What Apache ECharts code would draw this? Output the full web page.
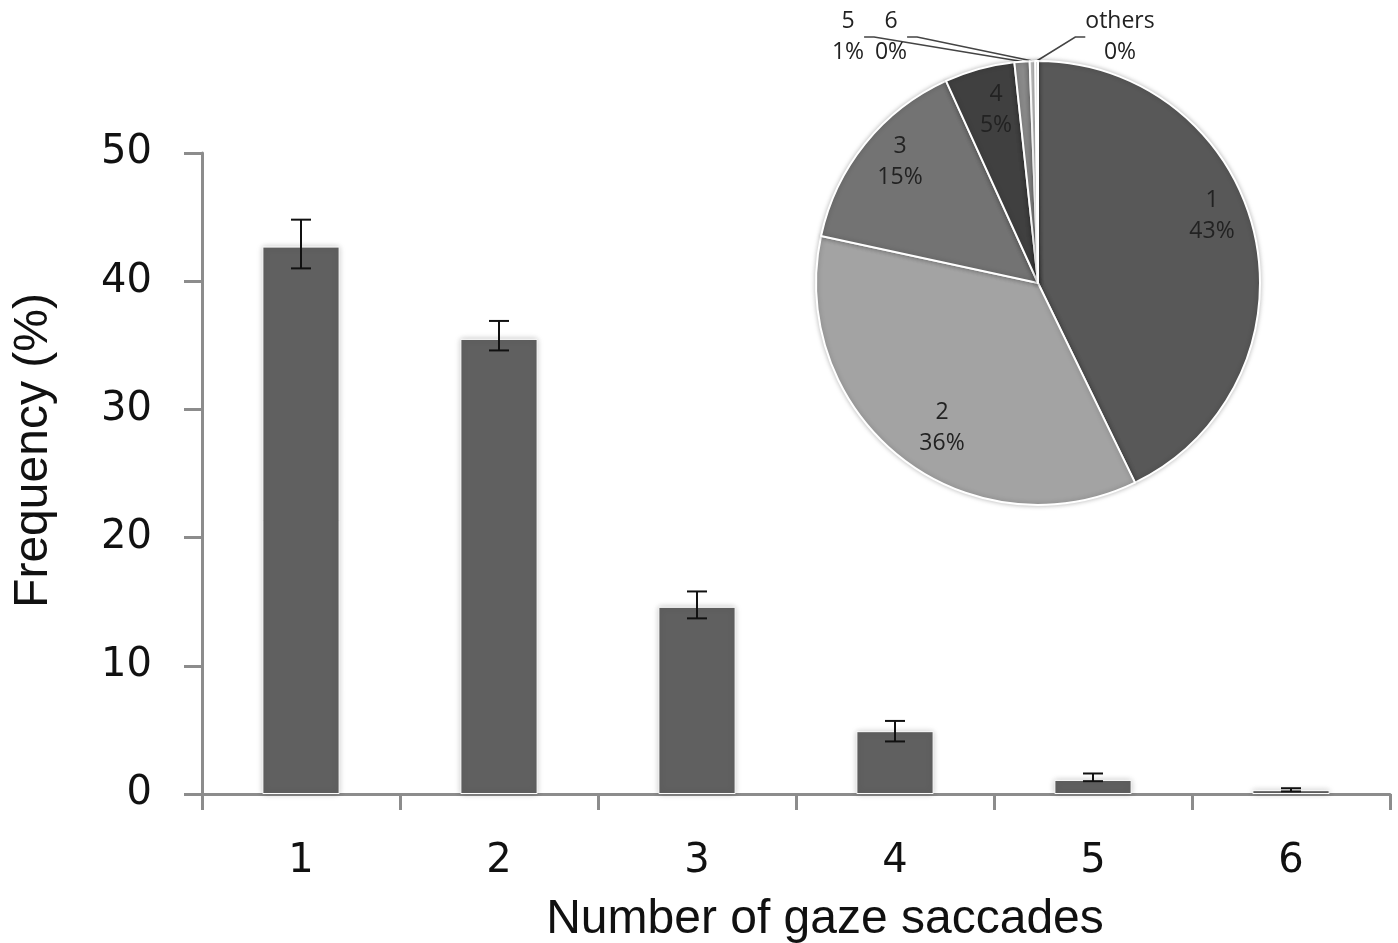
<!DOCTYPE html>
<html><head><meta charset="utf-8">
<script src="https://cdn.jsdelivr.net/npm/echarts@6/dist/echarts.min.js"></script>
<style>html,body{margin:0;padding:0;background:#fff}#c{width:1398px;height:943px}</style>
</head><body><div id="c"></div>
<script>
const categories = ['1','2','3','4','5','6'];
const barValues = [42.7, 35.5, 14.6, 4.9, 1.1, 0.3];
const errLow = [41.0, 34.6, 13.7, 4.1, 1.0, 0.2];
const errHigh = [44.8, 36.9, 15.8, 5.7, 1.6, 0.45];
const yTicks = [0, 10, 20, 30, 40, 50];
const pieNames = ['1','2','3','4','5','6','others'];
const pieValues = [42.8, 35.6, 14.8, 5.1, 1.1, 0.4, 0.2];
const pieColors = ['#585858','#a3a3a3','#737373','#404040','#8a8a8a','#d4d4d4','#ececec'];

const chart = echarts.init(document.getElementById('c'));
const pieCenter = [1038, 283];
const pieRadius = 222;
// label anchor positions (text layout only)
const labelPos = [[1212, 216], [942, 428], [900, 162], [996, 110], [848, 37], [891, 37], [1120, 37]];

const errData = categories.map((c, i) => [i, errLow[i], errHigh[i]]);

chart.setOption({
  animation: false,
  grid: {left: 202, right: 8, top: 153, bottom: 149, outerBoundsMode: 'none', containLabel: false},
  xAxis: {
    type: 'category', data: categories,
    name: 'Number of gaze saccades', nameLocation: 'middle', nameGap: 102,
    nameTextStyle: {fontFamily: 'Liberation Sans', fontSize: 48, color: '#111', padding: [0,0,0,58]},
    axisLine: {show: true, lineStyle: {color: '#8c8c8c', width: 3}},
    axisTick: {show: true, alignWithLabel: false, interval: 0, length: 16, lineStyle: {color: '#8c8c8c', width: 3}},
    axisLabel: {fontFamily: 'DejaVu Sans', fontSize: 40, color: '#111', margin: 48}
  },
  yAxis: {
    type: 'value', min: yTicks[0], max: yTicks[yTicks.length-1], interval: 10,
    name: 'Frequency (%)', nameLocation: 'middle', nameGap: 144, nameRotate: 90,
    nameTextStyle: {fontFamily: 'Liberation Sans', fontSize: 48, color: '#111', padding: [0,0,0,46]},
    axisLine: {show: true, lineStyle: {color: '#8c8c8c', width: 3}},
    axisTick: {show: true, length: 18, lineStyle: {color: '#8c8c8c', width: 3}},
    splitLine: {show: false},
    axisLabel: {fontFamily: 'DejaVu Sans', fontSize: 40, color: '#111', margin: 50}
  },
  series: [
    {
      type: 'bar', data: barValues, barWidth: '39%',
      itemStyle: {color: '#606060', borderColor: '#fdfdfd', borderWidth: 1,
        shadowColor: 'rgba(0,0,0,0.22)', shadowBlur: 6},
      z: 2
    },
    {
      type: 'custom', data: errData, z: 5,
      encode: {x: 0, y: [1, 2]},
      renderItem: function (params, api) {
        const lo = api.coord([api.value(0), api.value(1)]);
        const hi = api.coord([api.value(0), api.value(2)]);
        const hw = 10;
        const st = {stroke: '#111', lineWidth: 2};
        return {type: 'group', children: [
          {type: 'line', shape: {x1: lo[0], y1: lo[1], x2: hi[0], y2: hi[1]}, style: st},
          {type: 'line', shape: {x1: lo[0]-hw, y1: lo[1], x2: lo[0]+hw, y2: lo[1]}, style: st},
          {type: 'line', shape: {x1: hi[0]-hw, y1: hi[1], x2: hi[0]+hw, y2: hi[1]}, style: st}
        ]};
      }
    },
    {
      type: 'pie', center: pieCenter, radius: pieRadius,
      startAngle: 90, clockwise: true, avoidLabelOverlap: false,
      percentPrecision: 0,
      itemStyle: {borderColor: '#fff', borderWidth: 2, shadowColor: 'rgba(0,0,0,0.25)', shadowBlur: 5},
      label: {position: 'inside', formatter: '{b}\n{d}%', fontFamily: 'Open Sans', fontSize: 23,
        lineHeight: 31, color: '#222'},
      labelLine: {show: true, lineStyle: {color: '#444', width: 1.5}, length: 10, length2: 10},
      data: pieNames.map((n, i) => ({
        name: n, value: pieValues[i], itemStyle: {color: pieColors[i]},
        label: i >= 4 ? {position: 'outside'} : {position: 'inside'},
        labelLine: {show: i >= 4}
      })),
      labelLayout: function (p) {
        const pos = labelPos[p.dataIndex];
        return {x: pos[0], y: pos[1], align: 'center', verticalAlign: 'middle'};
      }
    }
  ]
});
</script></body></html>
